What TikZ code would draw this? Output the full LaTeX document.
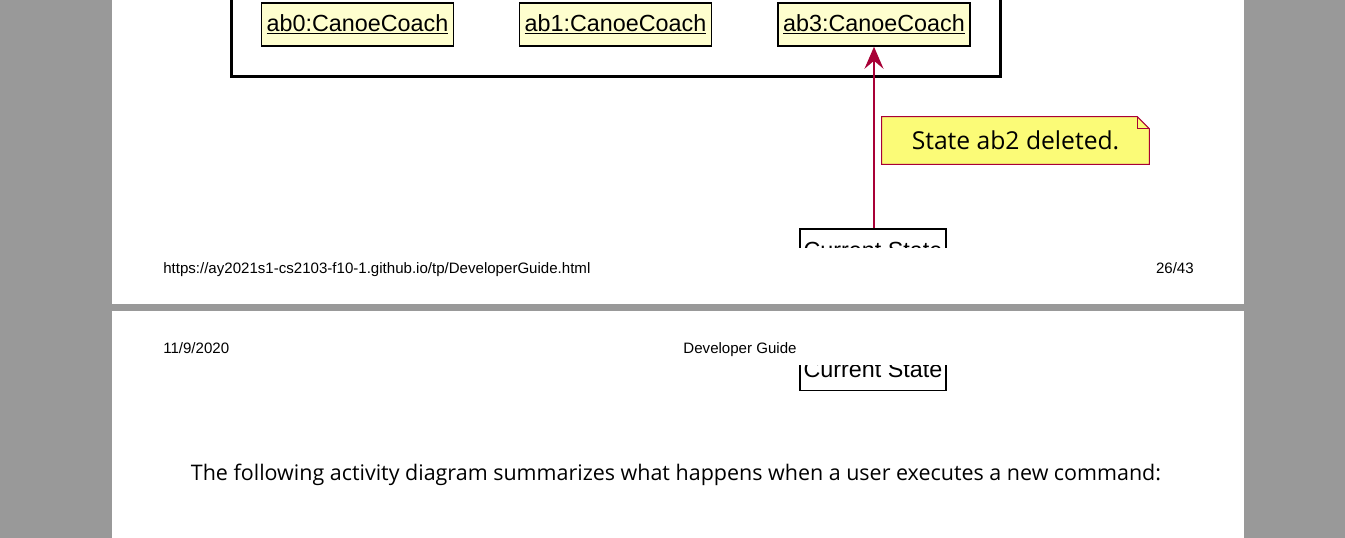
\documentclass[tikz,border=0pt]{standalone}
\usepackage{fontspec}
\setmainfont{Liberation Sans}
\newfontfamily\bodyfont{Open Sans}
\usepackage{xcolor}
\usepackage{tikz}
\usetikzlibrary{arrows.meta, positioning, calc}

\definecolor{umlred}{HTML}{A80036}
\definecolor{objfill}{HTML}{FEFECE}
\definecolor{notefill}{HTML}{FBFB77}
\definecolor{pagegray}{HTML}{999999}
\def\px{0.75pt}

\tikzset{
  objbox/.style={draw=black, line width=1.5*\px, fill=objfill, minimum width=192*\px,
    minimum height=43*\px, inner sep=0pt, font=\fontsize{17.5}{20}\selectfont},
  statebox/.style={draw=black, line width=1.5*\px, fill=white, minimum width=146*\px,
    minimum height=43*\px, inner sep=0pt, font=\fontsize{17.5}{20}\selectfont},
  notebox/.style={minimum width=267*\px, minimum height=47*\px, inner sep=0pt,
    font=\bodyfont\fontsize{18.5}{22}\selectfont},
  pagetext/.style={inner sep=0pt, font=\fontsize{11.3}{13}\selectfont},
}

\begin{document}
\begin{tikzpicture}[x=0.75pt, y=-0.75pt]
  % canvas in screen pixels, y runs downwards
  \useasboundingbox (0,0) rectangle (1345,538);
  \fill[pagegray] (0,0) rectangle (1345,538);
  \fill[white] (112,0) rectangle (1244,304);
  \fill[white] (112,311) rectangle (1244,538);

  % page 26: end of the object diagram
  \begin{scope}
    \clip (112,0) rectangle (1244,248);
    \draw[line width=3*\px] (231,-10) rectangle (1000,77);
    \node[objbox] (ab0) at (357.5,24.5) {\underline{ab0:CanoeCoach}};
    \node[objbox] (ab1) at (615.5,24.5) {\underline{ab1:CanoeCoach}};
    \node[objbox] (ab3) at (874,24.5) {\underline{ab3:CanoeCoach}};
    \node[statebox] (cs1) at (873,250.5) {Current State};
    \draw[umlred, line width=1.5*\px, -{Stealth[length=22*\px, width=19*\px, inset=8*\px]}]
      (cs1.north -| ab3.south) -- (ab3.south);
    % note with folded corner
    \node[notebox] (note) at (1015.5,140.5) {};
    \draw[umlred, line width=1*\px, fill=notefill]
      (note.north west) -- ($(note.north east)+(-12,0)$) -- ($(note.north east)+(0,12)$)
      -- (note.south east) -- (note.south west) -- cycle;
    \draw[umlred, line width=1*\px]
      ($(note.north east)+(-12,0)$) -- ($(note.north east)+(-12,12)$) -- ($(note.north east)+(0,12)$);
    \node[notebox] (notetext) at (note.center) {State ab2 deleted.};
  \end{scope}

  % footer of page 26
  \node[pagetext, anchor=base west] (url) at (163,273) {https://ay2021s1-cs2103-f10-1.github.io/tp/DeveloperGuide.html};
  \node[pagetext, anchor=base east] (pgno) at (1194,273) {26/43};

  % header of page 27
  \node[pagetext, anchor=base west] (date) at (163,353) {11/9/2020};
  \node[pagetext, anchor=base] (title) at (740,353) {Developer Guide};

  % page 27: rest of the state box
  \begin{scope}
    \clip (112,365) rectangle (1244,538);
    \node[statebox] (cs2) at (873,369) {Current State};
  \end{scope}

  \node[inner sep=0pt, anchor=base, font=\bodyfont\fontsize{16.1}{19}\selectfont] (intro) at (676,480)
    {The following activity diagram summarizes what happens when a user executes a new command:};
\end{tikzpicture}
\end{document}
